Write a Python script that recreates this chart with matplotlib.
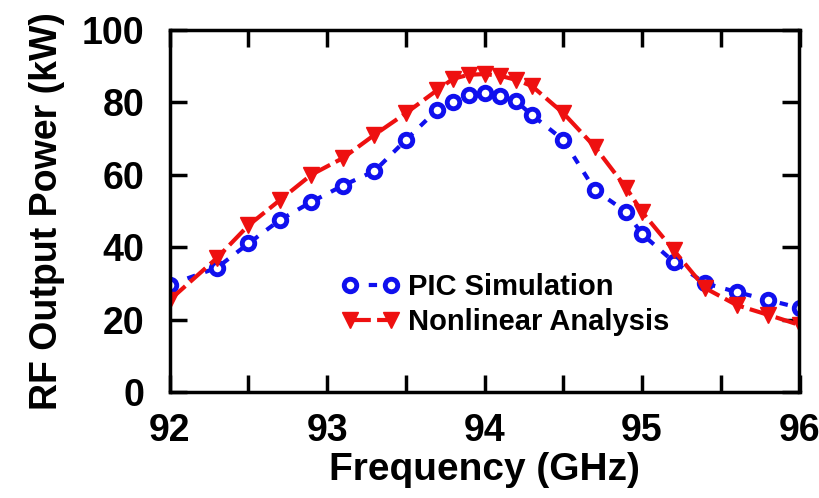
import matplotlib.pyplot as plt
import numpy as np

plt.rcParams['font.family'] = ['Liberation Sans', 'DejaVu Sans']
plt.rcParams['font.weight'] = 'bold'

freq = [92.0, 92.3, 92.5, 92.7, 92.9, 93.1, 93.3, 93.5, 93.7, 93.8, 93.9, 94.0,
        94.1, 94.2, 94.3, 94.5, 94.7, 94.9, 95.0, 95.2, 95.4, 95.6, 95.8, 96.0]
pic = [29.6, 34.3, 41.0, 47.5, 52.5, 57.0, 61.0, 69.6, 78.0, 80.0, 82.0, 82.6,
       81.8, 80.3, 76.5, 69.6, 55.8, 49.7, 43.6, 36.0, 30.0, 27.6, 25.4, 23.2]
nonlin = [25.4, 37.0, 46.0, 53.0, 60.0, 64.6, 71.0, 77.0, 83.4, 86.5, 87.6, 87.8,
          87.3, 86.2, 84.5, 77.0, 67.7, 56.3, 49.7, 39.2, 28.7, 24.0, 21.3, 18.5]

fig = plt.figure(figsize=(8.2, 4.98), dpi=100)
ax = fig.add_axes([0.207, 0.213, 0.768, 0.727])

ax.plot(freq, pic, color='#1010ee', linestyle=(0, (2, 2.5)), linewidth=3,
        marker='o', markersize=9, markerfacecolor='white', markeredgewidth=3.5,
        markeredgecolor='#1010ee', label='PIC Simulation')
ax.plot(freq, nonlin, color='#ee1010', linestyle=(0, (5, 1.5)), linewidth=3,
        marker='v', markersize=12, markerfacecolor='#ee1010',
        markeredgecolor='#ee1010', label='Nonlinear Analysis')

ax.set_xlim(92, 96)
ax.set_ylim(0, 100)
ax.set_xticks([92, 93, 94, 95, 96])
ax.set_xticks(np.arange(92.5, 96, 1.0), minor=True)
ax.set_yticks([0, 20, 40, 60, 80, 100])
ax.tick_params(axis='both', which='both', direction='in', top=True, right=True,
               width=2.5, length=12, labelsize=27)
ax.tick_params(axis='x', which='major', pad=15)
ax.tick_params(axis='y', which='major', pad=18)
for s in ax.spines.values():
    s.set_linewidth(2.5)

ax.set_xlabel('Frequency (GHz)', fontsize=28, fontweight='bold', labelpad=2)
ax.set_ylabel('RF Output Power (kW)', fontsize=27, fontweight='bold', labelpad=12)

leg = ax.legend(loc='upper left', bbox_to_anchor=(0.24, 0.385), frameon=False,
                fontsize=21, handlelength=2.0, handletextpad=0.3, labelspacing=0.25,
                numpoints=2, borderpad=0.2)

fig.savefig('out.png', dpi=100)
